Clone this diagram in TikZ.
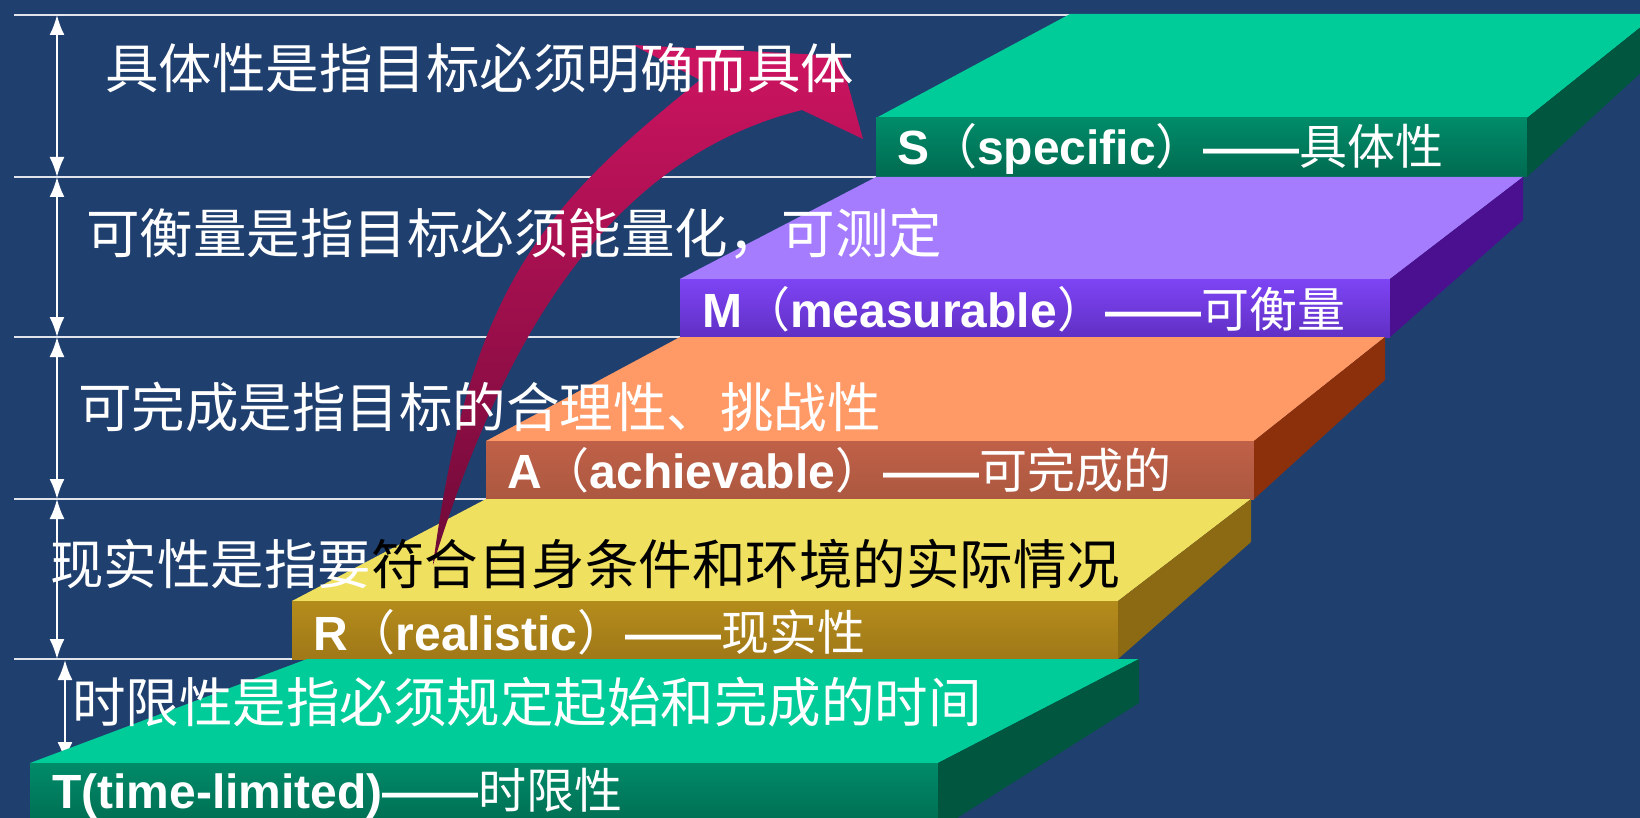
\documentclass[tikz,border=0pt]{standalone}
\usepackage{fontspec}
\setmainfont{Liberation Sans}
\newfontfamily\cjk{Noto Sans CJK SC}
\usetikzlibrary{arrows.meta}
\definecolor{bg}{RGB}{31,63,111}
\definecolor{lineC}{RGB}{225,228,235}
\definecolor{gTop}{RGB}{0,204,153}
\definecolor{gFrontA}{RGB}{0,140,105}
\definecolor{gFrontB}{RGB}{0,106,80}
\definecolor{gSide}{RGB}{0,86,63}
\definecolor{pTop}{RGB}{166,124,255}
\definecolor{pFrontA}{RGB}{126,68,245}
\definecolor{pFrontB}{RGB}{96,48,196}
\definecolor{pSide}{RGB}{74,16,144}
\definecolor{oTop}{RGB}{255,153,102}
\definecolor{oFrontA}{RGB}{192,96,72}
\definecolor{oFrontM}{RGB}{218,112,82}
\definecolor{oFrontB}{RGB}{172,88,64}
\definecolor{oSide}{RGB}{140,48,12}
\definecolor{yTop}{RGB}{240,224,96}
\definecolor{yFrontA}{RGB}{180,140,28}
\definecolor{yFrontM}{RGB}{210,162,32}
\definecolor{yFrontB}{RGB}{160,120,24}
\definecolor{ySide}{RGB}{140,106,20}
\definecolor{magA}{RGB}{206,20,97}
\definecolor{magB}{RGB}{110,10,55}
\newcommand\zhtxt[1]{{\cjk\mdseries #1}}
\begin{document}
\begin{tikzpicture}[x=1pt,y=-1pt,
  desc/.style={anchor=base west, inner sep=0pt, text=white, font=\cjk\fontsize{53.5}{60}\selectfont},
  lab/.style={anchor=base west, inner sep=0pt, text=white, font=\fontsize{48}{54}\selectfont\bfseries},
  guide/.style={draw=lineC, line width=2pt},
  dim/.style={draw=white, line width=2pt, {Latex[length=20pt,width=15pt]}-{Latex[length=20pt,width=15pt]}}
]
\useasboundingbox (0,0) rectangle (1640,818);
\clip (0,0) rectangle (1640,818);
\fill[bg] (0,0) rectangle (1640,818);

% guide lines
\draw[guide] (14,15) -- (1070,15);
\draw[guide] (14,177) -- (876,177);
\draw[guide] (14,337) -- (680,337);
\draw[guide] (14,499) -- (486,499);
\draw[guide] (14,659) -- (292,659);

% dimension arrows
\coordinate (d0) at (57,15);
\coordinate (d1) at (57,177);
\coordinate (d2) at (57,337);
\coordinate (d3) at (57,499);
\coordinate (d4) at (57,659);
\coordinate (e0) at (65,660);
\coordinate (e1) at (65,762);
\draw[dim] (d0) -- (d1);
\draw[dim] (d1) -- (d2);
\draw[dim] (d2) -- (d3);
\draw[dim] (d3) -- (d4);
\draw[dim] (e0) -- (e1);

% S step
\fill[gTop] (1070,14) -- (1657,14) -- (1527,118) -- (876,118) -- cycle;
\shade[top color=gFrontA, bottom color=gFrontB] (876,118) rectangle (1527,177);
\fill[gSide] (1527,118) -- (1657,14) -- (1657,58) -- (1527,177) -- cycle;
% M step
\fill[pTop] (876,177) -- (1523,177) -- (1390,279) -- (680,279) -- cycle;
\shade[top color=pFrontA, bottom color=pFrontB] (680,279) rectangle (1390,337);
\fill[pSide] (1390,279) -- (1523,177) -- (1523,220) -- (1390,337) -- cycle;
% A step
\fill[oTop] (680,337) -- (1385,337) -- (1254,441) -- (486,441) -- cycle;
\shade[top color=oFrontA, middle color=oFrontM, bottom color=oFrontB] (486,441) rectangle (1254,499);
\fill[oSide] (1254,441) -- (1385,337) -- (1385,380) -- (1254,499) -- cycle;
% R step
\fill[yTop] (486,499) -- (1251,499) -- (1118,601) -- (292,601) -- cycle;
\shade[top color=yFrontA, middle color=yFrontM, bottom color=yFrontB] (292,601) rectangle (1118,659);
\fill[ySide] (1118,601) -- (1251,499) -- (1251,542) -- (1118,659) -- cycle;
% T step
\fill[gTop] (307,659) -- (1139,659) -- (938,763) -- (30,763) -- cycle;
\shade[top color=gFrontA, bottom color=gFrontB] (30,763) rectangle (938,830);
\fill[gSide] (938,763) -- (1139,659) -- (1139,703) -- (938,830) -- cycle;

% curved arrow
\coordinate (tail) at (433,565);
\coordinate (jn) at (700,80);
\coordinate (hb1) at (633,45);
\coordinate (hb2) at (840,56);
\coordinate (tip) at (863,139);
\coordinate (notch) at (802,110);
\shade[top color=magA, middle color=magA, bottom color=magB]
  (tail) .. controls (470,285) and (545,205) .. (jn) -- (hb1) -- (hb2) -- (tip) -- (notch)
  .. controls (622,155) and (510,315) .. (tail) -- cycle;

% descriptions
\node[desc] (ds) at (105,89) {具体性是指目标必须明确而具体};
\node[desc] (dm) at (86,254) {可衡量是指目标必须能量化，可测定};
\node[desc] (da) at (78,427) {可完成是指目标的合理性、挑战性};
\node[desc] (dr) at (50,584) {现实性是指要\textcolor{black}{符合自身条件和环境的实际情况}};
\node[desc] (dt) at (72,722) {时限性是指必须规定起始和完成的时间};

% step labels
\node[lab] (ls) at (897,165) {S\zhtxt{（}specific\zhtxt{）}——\zhtxt{具体性}};
\node[lab] (lm) at (702,327) {M\zhtxt{（}measurable\zhtxt{）}——\zhtxt{可衡量}};
\node[lab] (la) at (507,488) {A\zhtxt{（}achievable\zhtxt{）}——\zhtxt{可完成的}};
\node[lab] (lr) at (313,650) {R\zhtxt{（}realistic\zhtxt{）}——\zhtxt{现实性}};
\node[lab] (lt) at (52,808) {T(time-limited)——\zhtxt{时限性}};
\end{tikzpicture}
\end{document}
